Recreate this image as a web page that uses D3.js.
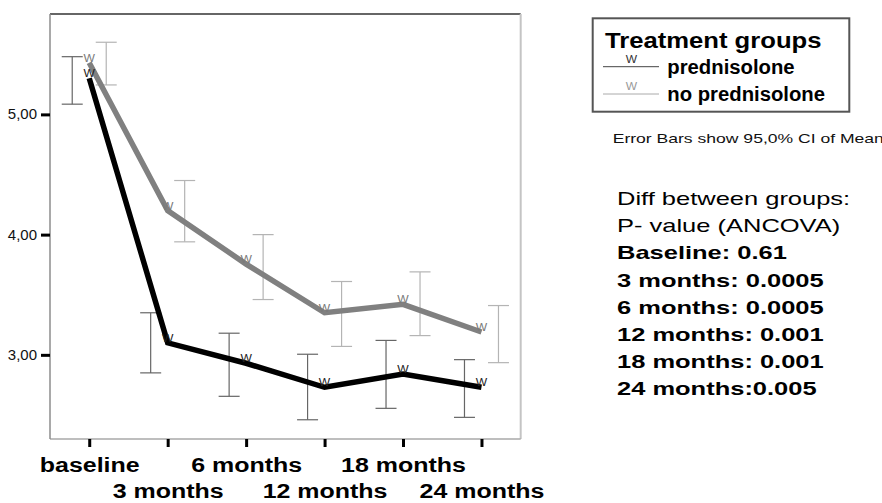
<!DOCTYPE html>
<html>
<head>
<meta charset="utf-8">
<script src="https://cdn.jsdelivr.net/npm/d3@7/dist/d3.min.js"></script>
<style>
  html, body { margin: 0; padding: 0; background: #fff; overflow: hidden; }
  svg { display: block; font-family: "Liberation Sans", Arial, sans-serif; }
</style>
</head>
<body>
<script>
// ---------- data ----------
const categories = ["baseline", "3 months", "6 months", "12 months", "18 months", "24 months"];
const predMean = [5.30, 3.10, 2.93, 2.73, 2.84, 2.73];
const predLow  = [5.085, 2.85, 2.655, 2.46, 2.555, 2.48];
const predHigh = [5.48, 3.35, 3.18, 3.005, 3.12, 2.96];
const noPredMean = [5.43, 4.20, 3.755, 3.35, 3.42, 3.19];
const noPredLow  = [5.245, 3.94, 3.46, 3.07, 3.16, 2.935];
const noPredHigh = [5.60, 4.45, 4.00, 3.61, 3.69, 3.41];
const yTickValues = [3, 4, 5];
const yTickLabels = ["3,00", "4,00", "5,00"];
const seriesNames = ["prednisolone", "no prednisolone"];
const legendTitle = "Treatment groups";
const noteText = "Error Bars show 95,0% CI of Mean";
const diffHeader = ["Diff between groups:", "P- value (ANCOVA)"];
const diffLines = ["Baseline: 0.61", "3 months: 0.0005", "6 months: 0.0005", "12 months: 0.001", "18 months: 0.001", "24 months:0.005"];

// ---------- layout ----------
const W = 882, H = 503;
const plot = { left: 50, right: 520.7, top: 14, bottom: 439 };

const svg = d3.select("body").append("svg").attr("width", W).attr("height", H);

const x = d3.scalePoint().domain(categories).range([plot.left, plot.right]).padding(0.5);
const y = d3.scaleLinear().domain([2.30, 5.835]).range([plot.bottom, plot.top]);

function stretch(sel, f) {
  sel.each(function () {
    const n = this.getComputedTextLength();
    d3.select(this).attr("textLength", n * f).attr("lengthAdjust", "spacingAndGlyphs");
  });
}

// frame
svg.append("line").attr("x1", plot.left).attr("x2", plot.right).attr("y1", plot.top).attr("y2", plot.top)
  .attr("stroke", "#666").attr("stroke-width", 2);
svg.append("line").attr("x1", plot.right).attr("x2", plot.right).attr("y1", plot.top).attr("y2", plot.bottom)
  .attr("stroke", "#c4c4c4").attr("stroke-width", 2);
svg.append("line").attr("x1", plot.left).attr("x2", plot.right).attr("y1", plot.bottom).attr("y2", plot.bottom)
  .attr("stroke", "#a8a8a8").attr("stroke-width", 1.5);
svg.append("line").attr("x1", plot.left).attr("x2", plot.left).attr("y1", plot.top).attr("y2", plot.bottom)
  .attr("stroke", "#8c8c8c").attr("stroke-width", 1.5);

// y axis
const yAxis = svg.append("g").attr("transform", `translate(${plot.left},0)`)
  .call(d3.axisLeft(y).tickValues(yTickValues).tickSize(9).tickPadding(4)
    .tickFormat((d, i) => yTickLabels[i]));
yAxis.select(".domain").remove();
yAxis.selectAll(".tick line").attr("stroke", "#000").attr("stroke-width", 3);
yAxis.selectAll(".tick text").attr("font-size", 14).attr("fill", "#111")
  .attr("font-family", "'Liberation Sans', Arial, sans-serif").call(stretch, 1.07);

// x axis
const xAxis = svg.append("g").attr("transform", `translate(0,${plot.bottom})`)
  .call(d3.axisBottom(x).tickSize(8).tickFormat(d => d));
xAxis.select(".domain").remove();
xAxis.selectAll(".tick line").attr("stroke", "#000").attr("stroke-width", 3);
xAxis.selectAll(".tick text")
  .attr("font-size", 19.5).attr("font-weight", "bold").attr("fill", "#000")
  .attr("font-family", "'Liberation Sans', Arial, sans-serif")
  .attr("dy", 0)
  .attr("y", (d, i) => (i % 2 === 0 ? 32.7 : 59))
  .call(stretch, 1.28);

// series
const series = [
  { mean: predMean, low: predLow, high: predHigh, line: "#000", bar: "#666", mark: "#222", off: -17 },
  { mean: noPredMean, low: noPredLow, high: noPredHigh, line: "#808080", bar: "#b4b4b4", mark: "#7a7a7a", off: 17 }
];

const gBars = svg.append("g");
series.forEach(s => {
  categories.forEach((c, i) => {
    const cx = x(c) + s.off;
    const yh = y(s.high[i]), yl = y(s.low[i]);
    const g = gBars.append("g").attr("stroke", s.bar).attr("stroke-width", 1.2);
    g.append("line").attr("x1", cx).attr("x2", cx).attr("y1", yh).attr("y2", yl);
    g.append("line").attr("x1", cx - 10.5).attr("x2", cx + 10.5).attr("y1", yh).attr("y2", yh);
    g.append("line").attr("x1", cx - 10.5).attr("x2", cx + 10.5).attr("y1", yl).attr("y2", yl);
  });
});

const line = d3.line().x((d, i) => x(categories[i])).y(d => y(d));
// draw grey first then black
[series[1], series[0]].forEach(s => {
  svg.append("path").attr("d", line(s.mean)).attr("fill", "none")
    .attr("stroke", s.line).attr("stroke-width", 5.5).attr("stroke-linejoin", "miter");
});
series.forEach(s => {
  svg.append("g").selectAll("text").data(s.mean).join("text")
    .attr("x", (d, i) => x(categories[i]))
    .attr("y", d => y(d) - 1)
    .attr("text-anchor", "middle").attr("font-size", 11).attr("fill", s.mark)
    .text("W").call(stretch, 1.1);
});

// legend
svg.append("rect").attr("x", 592.7).attr("y", 18.3).attr("width", 256.6).attr("height", 93.4)
  .attr("fill", "none").attr("stroke", "#555").attr("stroke-width", 2);
svg.append("text").attr("x", 605).attr("y", 48.3).attr("font-size", 22).attr("font-weight", "bold")
  .text(legendTitle).call(stretch, 1.165);
const legendY = [66.7, 94];
const legendLineCol = ["#444", "#aaa"];
const legendMarkCol = ["#333", "#999"];
seriesNames.forEach((name, i) => {
  svg.append("line").attr("x1", 603).attr("x2", 659).attr("y1", legendY[i]).attr("y2", legendY[i])
    .attr("stroke", legendLineCol[i]).attr("stroke-width", 1);
  svg.append("text").attr("x", 631.5).attr("y", legendY[i] - 4).attr("text-anchor", "middle")
    .attr("font-size", 10).attr("fill", legendMarkCol[i]).text("W").call(stretch, 1.2);
  svg.append("text").attr("x", 667.3).attr("y", legendY[i] + 6.8).attr("font-size", 19.5)
    .attr("font-weight", "bold").text(name).call(stretch, 1.04);
});

// note
svg.append("text").attr("x", 612.7).attr("y", 143.3).attr("font-size", 13).attr("fill", "#111")
  .text(noteText).call(stretch, 1.35);

// diff block
const allLines = diffHeader.map(t => ({ t, b: false })).concat(diffLines.map(t => ({ t, b: true })));
svg.append("g").selectAll("text").data(allLines).join("text")
  .attr("x", 617).attr("y", (d, i) => 205 + i * 27.2)
  .attr("font-size", 18.6).attr("font-weight", d => d.b ? "bold" : "normal").attr("fill", "#000")
  .text(d => d.t).call(stretch, 1.37);
</script>
</body>
</html>
